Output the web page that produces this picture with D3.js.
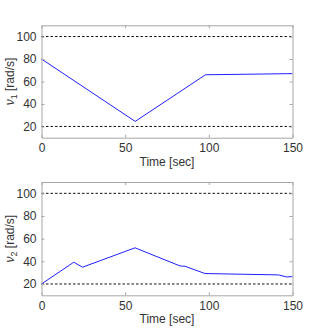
<!DOCTYPE html>
<html>
<head>
<meta charset="utf-8">
<script src="https://cdn.jsdelivr.net/npm/d3@7"></script>
<style>
  body { margin: 0; background: #fff; }
  svg { display: block; font-family: "Liberation Sans", Arial, sans-serif; }
</style>
</head>
<body>
<div id="chart"></div>
<script>
// data
const xTicks = [0, 50, 100, 150];
const yTicks = [20, 40, 60, 80, 100];
const limits = [20, 100];

const nu1Time = [0, 56, 98, 150];
const nu1Value = [80, 24.5, 66, 67];

const nu2Time = [0, 19.3, 24.5, 55.9, 82.8, 85.8, 97.7, 141.6, 146.6, 150];
const nu2Value = [20, 39.2, 34.8, 51.9, 35.9, 35.6, 29.2, 28, 26.2, 26.5];

const panels = [
    { sub: "1", time: nu1Time, value: nu1Value, top: 25.3, bottom: 137.7 },
    { sub: "2", time: nu2Time, value: nu2Value, top: 182, bottom: 295.3 }
];

const width = 323, height = 332;
const left = 41.5, right = 292.5;
const axisColor = "#a6a6a6";
const textColor = "#333333";
const fontSize = "12px";

const svg = d3.select("#chart").append("svg")
    .attr("width", width)
    .attr("height", height);

const x = d3.scaleLinear().domain([0, 150]).range([left, right]);

panels.forEach(p => {
    const y = d3.scaleLinear().domain([10, 110]).range([p.bottom, p.top]);
    const g = svg.append("g");

    // limit lines
    limits.forEach(v => {
        g.append("line")
            .attr("x1", x(0)).attr("x2", x(150))
            .attr("y1", y(v)).attr("y2", y(v))
            .attr("stroke", "#111")
            .attr("stroke-width", 1)
            .attr("stroke-dasharray", "2.5,2");
    });

    // series
    const pts = p.time.map((t, i) => [t, p.value[i]]);
    g.append("path")
        .datum(pts)
        .attr("d", d3.line().x(d => x(d[0])).y(d => y(d[1])))
        .attr("fill", "none")
        .attr("stroke", "#1f1fff")
        .attr("stroke-width", 1);

    // box with inward ticks
    const bottomAxis = g.append("g")
        .attr("transform", `translate(0,${p.bottom})`)
        .call(d3.axisBottom(x).tickValues(xTicks).tickSizeInner(-3).tickSizeOuter(0).tickPadding(6));
    const topAxis = g.append("g")
        .attr("transform", `translate(0,${p.top})`)
        .call(d3.axisTop(x).tickValues(xTicks).tickSizeInner(-3).tickSizeOuter(0).tickFormat(""));
    const leftAxis = g.append("g")
        .attr("transform", `translate(${left},0)`)
        .call(d3.axisLeft(y).tickValues(yTicks).tickSizeInner(-3).tickSizeOuter(0).tickPadding(5));
    const rightAxis = g.append("g")
        .attr("transform", `translate(${right},0)`)
        .call(d3.axisRight(y).tickValues(yTicks).tickSizeInner(-3).tickSizeOuter(0).tickFormat(""));

    [bottomAxis, topAxis, leftAxis, rightAxis].forEach(a => {
        a.select(".domain").attr("stroke", axisColor);
        a.selectAll(".tick line").attr("stroke", axisColor);
        a.selectAll("text")
            .attr("fill", textColor)
            .style("font-size", fontSize)
            .style("font-family", "Liberation Sans, Arial, sans-serif");
    });

    // x label
    g.append("text")
        .attr("x", (left + right) / 2)
        .attr("y", p.bottom + 28)
        .attr("text-anchor", "middle")
        .attr("fill", textColor)
        .style("font-size", fontSize)
        .text("Time [sec]");

    // y label
    const yl = g.append("text")
        .attr("transform", `translate(14,${(p.top + p.bottom) / 2}) rotate(-90)`)
        .attr("text-anchor", "middle")
        .attr("fill", textColor)
        .style("font-size", fontSize);
    yl.append("tspan").style("font-style", "italic").text("ν");
    yl.append("tspan").attr("dy", 3).style("font-size", "9px").text(p.sub);
    yl.append("tspan").attr("dy", -3).text(" [rad/s]");
});
</script>
</body>
</html>
